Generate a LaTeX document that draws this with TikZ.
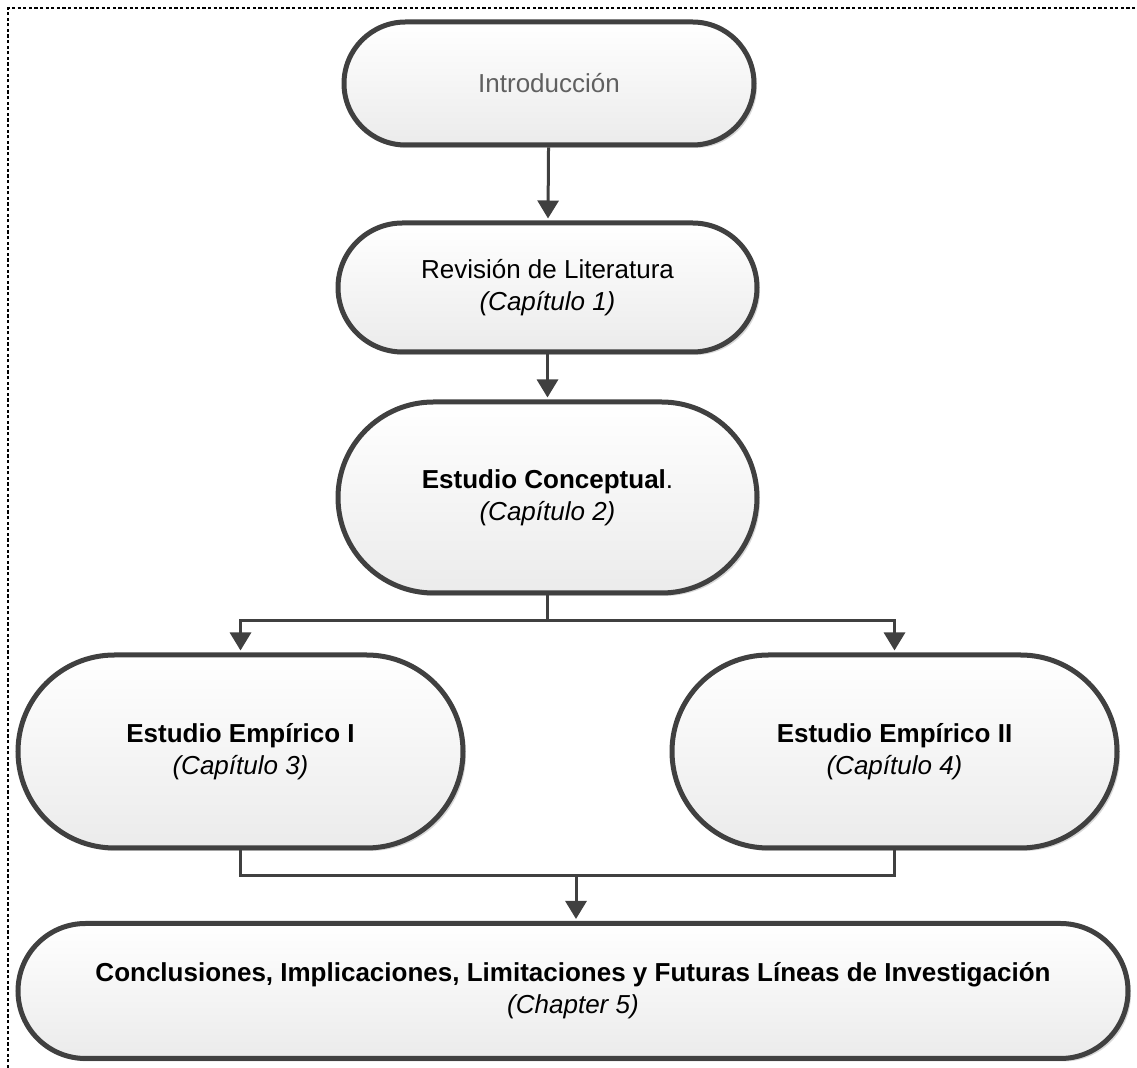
\documentclass[tikz,border=0pt]{standalone}
\usepackage{fontspec}
\setmainfont{Liberation Sans}
\usetikzlibrary{arrows.meta,shapes.misc,shadows}
\definecolor{Edge}{HTML}{404040}
\definecolor{Soft}{HTML}{EBEBEB}
\definecolor{Shade}{HTML}{D8D8D8}
\definecolor{Faint}{HTML}{606060}

\begin{document}
\begin{tikzpicture}[x=0.5pt,y=-0.5pt,
        box/.style={rounded rectangle,draw=Edge,line width=2.5pt,top color=white,bottom color=Soft,
          drop shadow={shadow xshift=1.5pt,shadow yshift=-1.5pt,fill=Shade,opacity=1},
          align=center,inner sep=0pt,font=\fontsize{13}{16}\selectfont},
        l/.style={draw=Edge,line width=1.5pt},
        a/.style={l,-{Triangle[width=10.5pt,length=9pt]},shorten >=1pt}]
        \useasboundingbox (0,0) rectangle (1137,1068);
        \draw[line width=1.2pt,dash pattern=on 1.6pt off 1.2pt] (8,1068) -- (8,8) -- (1137,8);
        \node[box,minimum width=205pt,minimum height=61.5pt,text=Faint] (intro) at (549,83.5) {Introducción};
        \node[box,minimum width=209.5pt,minimum height=64.5pt] (rev) at (547.5,287.5) {Revisión de Literatura\\\textit{(Capítulo 1)}};
        \node[box,minimum width=209.5pt,minimum height=95.5pt] (conc) at (547.5,497.5) {\textbf{Estudio Conceptual}.\\\textit{(Capítulo 2)}};
        \node[box,minimum width=222.5pt,minimum height=96.5pt] (emp1) at (240.5,751.5) {\textbf{Estudio Empírico I}\\\textit{(Capítulo 3)}};
        \node[box,minimum width=222.5pt,minimum height=96.5pt] (emp2) at (894.5,751.5) {\textbf{Estudio Empírico II}\\\textit{(Capítulo 4)}};
        \node[box,minimum width=555pt,minimum height=67.5pt] (fin) at (573,991) {\textbf{Conclusiones, Implicaciones, Limitaciones y Futuras Líneas de Investigación}\\\textit{(Chapter 5)}};
        \coordinate (split) at (547.5,621);
        \coordinate (join) at (576,876);
        \draw[a] (intro) -- (rev);
        \draw[a] (rev) -- (conc);
        \draw[l] (conc.south) -- (split);
        \draw[a] (split) -| (emp1.north);
        \draw[a] (split) -| (emp2.north);
        \draw[l] (emp1.south) |- (join) -| (emp2.south);
        \draw[a] (join) -- (join |- fin.north);
      \end{tikzpicture}
\end{document}
